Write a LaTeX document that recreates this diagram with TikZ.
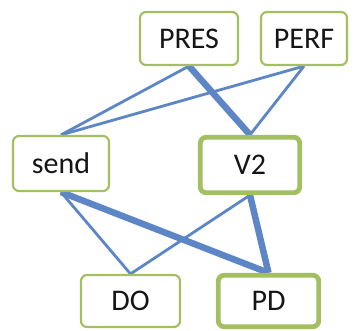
\documentclass[tikz,border=0pt]{standalone}
\usepackage{fontspec}
\setmainfont{Carlito}
\usetikzlibrary{backgrounds}
\definecolor{boxgreen}{HTML}{A4BE62}
\definecolor{edgeblue}{HTML}{5D86C6}
\definecolor{txt}{HTML}{151515}
\tikzset{
  wbox/.style={draw=boxgreen, line width=2.2pt, rounded corners=6pt, fill=white,
    inner sep=0pt, font=\fontsize{30}{34}\selectfont, text=txt},
  thickbox/.style={wbox, line width=4.8pt},
  thinedge/.style={draw=edgeblue, line width=2.8pt},
  thickedge/.style={draw=edgeblue, line width=6.5pt},
}
\begin{document}
\begin{tikzpicture}[x=1pt,y=-1pt]
\useasboundingbox (0,0) rectangle (361,331);
\node[wbox, minimum width=98pt, minimum height=53pt] (pres) at (189,38.5) {PRES};
\node[wbox, minimum width=86pt, minimum height=53pt] (perf) at (304,38.5) {PERF};
\node[wbox, minimum width=96pt, minimum height=55pt] (send) at (61,163.5) {send};
\node[thickbox, minimum width=99.5pt, minimum height=55.5pt] (v2) at (250,165) {V2};
\node[wbox, minimum width=99pt, minimum height=52pt] (do) at (130.5,301) {DO};
\node[thickbox, minimum width=100.5pt, minimum height=51.5pt] (pd) at (268.5,301) {PD};
\begin{scope}[on background layer]
\draw[thinedge] (pres.south) -- (send.north);
\draw[thinedge] (perf.south) -- (send.north);
\draw[thinedge] (perf.south) -- (v2.north);
\draw[thickedge] (pres.south) -- (v2.north);
\draw[thinedge] (send.south) -- (do.north);
\draw[thinedge] (v2.south) -- (do.north);
\draw[thickedge] (send.south) -- (pd.north);
\draw[thickedge] (v2.south) -- (pd.north);
\end{scope}
\end{tikzpicture}
\end{document}
